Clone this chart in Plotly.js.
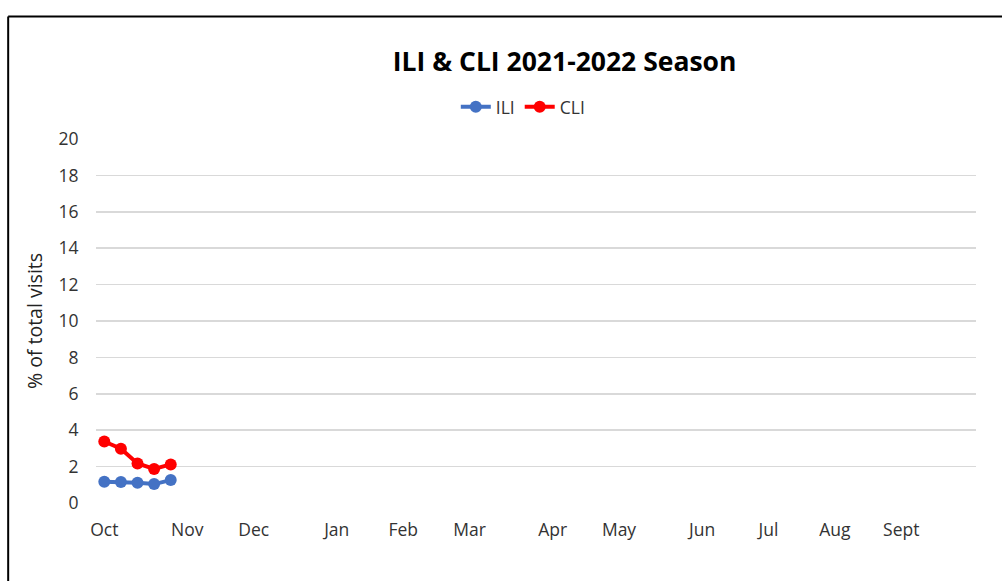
<!DOCTYPE html>
<html>
<head>
<meta charset="utf-8">
<script src="https://cdn.plot.ly/plotly-3.0.1.min.js"></script>
<style>
html,body{margin:0;padding:0;background:#fff;}
#chart{width:1002px;height:581px;}
</style>
</head>
<body>
<div id="chart"></div>
<script>
// Week index of each data point (week 0 = first week of October)
var weeks = [0, 1, 2, 3, 4];
var iliValues = [1.17, 1.16, 1.11, 1.04, 1.26];
var cliValues = [3.38, 2.98, 2.17, 1.87, 2.12];
// Month tick labels and the week at which each appears
var monthLabels = ["Oct","Nov","Dec","Jan","Feb","Mar","Apr","May","Jun","Jul","Aug","Sept"];
var monthWeeks = [0, 5, 9, 14, 18, 22, 27, 31, 36, 40, 44, 48];
var totalWeeks = 53;

var font = "'Open Sans', Lato, sans-serif";

var traces = [
  {x: weeks, y: iliValues, name: "ILI", type: "scatter", mode: "lines+markers",
   line: {color: "#4472C4", width: 4}, marker: {color: "#4472C4", size: 12}},
  {x: weeks, y: cliValues, name: "CLI", type: "scatter", mode: "lines+markers",
   line: {color: "#FF0000", width: 4}, marker: {color: "#FF0000", size: 12}}
];

var layout = {
  width: 1002, height: 581,
  paper_bgcolor: "#fff", plot_bgcolor: "#fff",
  margin: {l: 96, r: 26, t: 139, b: 78},
  font: {family: font, size: 17, color: "#333"},
  title: {text: "<b>ILI & CLI 2021-2022 Season</b>", x: 0.5635, xref: "container", xanchor: "center",
          y: 1 - 62/581, yref: "container", yanchor: "middle",
          font: {family: font, size: 26.5, color: "#000"}},
  showlegend: true,
  legend: {orientation: "h", x: 0.485, xanchor: "center", y: 1.088, yanchor: "middle",
           font: {family: font, size: 17.5, color: "#333"}, tracegroupgap: 0},
  xaxis: {range: [-0.5, totalWeeks - 0.5], tickmode: "array", tickvals: monthWeeks, ticktext: monthLabels,
          showgrid: false, zeroline: false, showline: false, ticks: "outside", ticklen: 11,
          tickcolor: "rgba(0,0,0,0)", tickfont: {family: font, size: 17.5, color: "#333"}, fixedrange: true},
  yaxis: {range: [0, 20], dtick: 2, showgrid: true, gridcolor: "#d9d9d9", gridwidth: 1.5,
          zeroline: false, showline: false, ticks: "outside", ticklen: 13, tickcolor: "rgba(0,0,0,0)",
          tickfont: {family: font, size: 17.5, color: "#333"},
          title: {text: "% of total visits", standoff: 10, font: {family: font, size: 19.5, color: "#222"}}},
  shapes: [
    {type: "line", xref: "paper", yref: "paper", x0: -0.0998, x1: -0.0998, y0: -0.3, y1: 1.3365,
     line: {color: "#000", width: 2}},
    {type: "line", xref: "paper", yref: "paper", x0: -0.0998, x1: 1.1, y0: 1.3365, y1: 1.3365,
     line: {color: "#000", width: 2}}
  ]
};

Plotly.newPlot("chart", traces, layout, {displayModeBar: false, staticPlot: true});
</script>
</body>
</html>
